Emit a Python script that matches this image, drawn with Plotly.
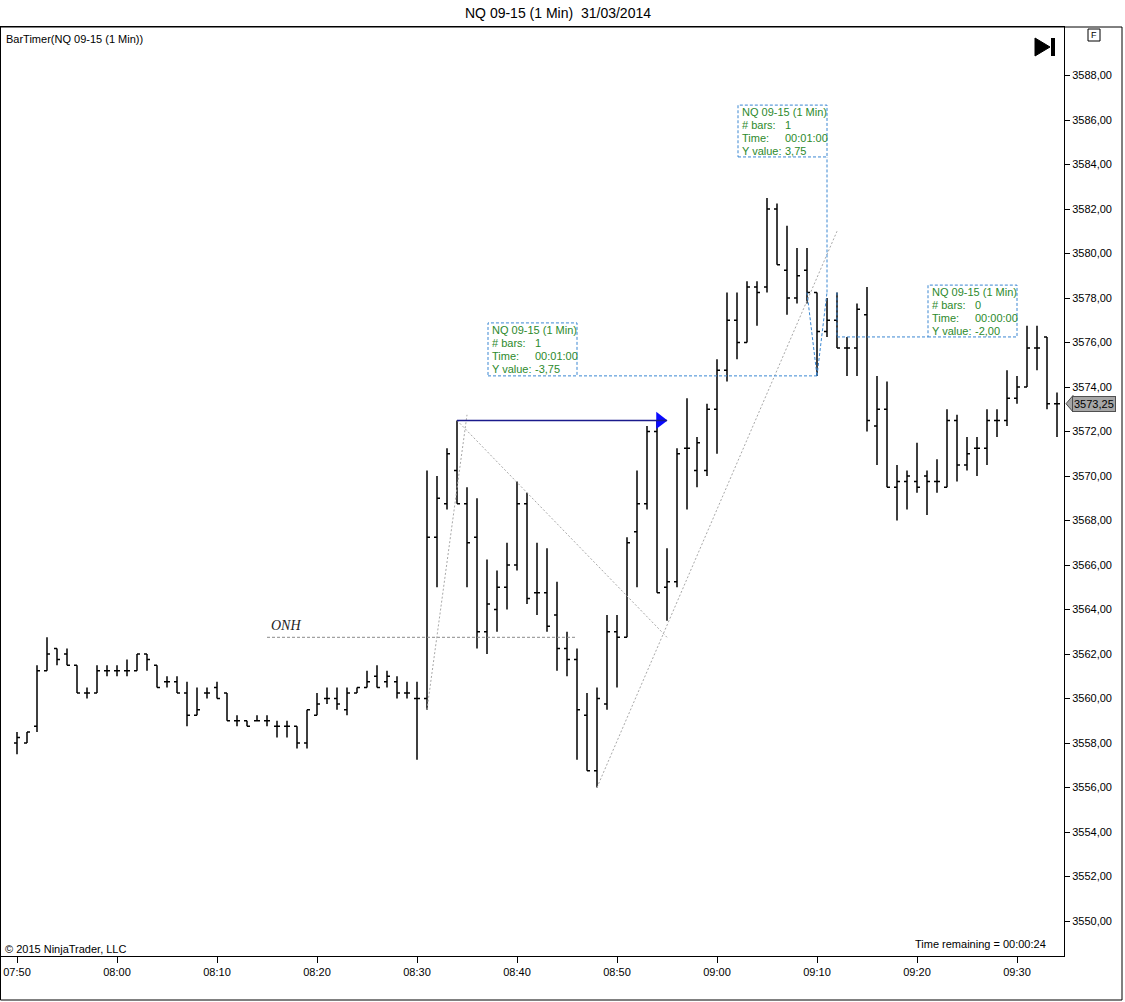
import pandas as pd
import plotly.graph_objects as go

DAY = "2014-03-31 "

# one bar per minute, 07:50 .. 09:34
times = pd.date_range(DAY + "07:50", DAY + "09:34", freq="1min")

opens = [
    3558.0, 3558.0, 3558.75, 3561.25, 3562.25, 3562.0, 3561.5, 3560.25, 3560.25, 3561.25,
    3561.25, 3561.25, 3561.25, 3562.0, 3561.5, 3560.75, 3560.75, 3560.25, 3559.25, 3560.25,
    3560.5, 3560.25, 3559.0, 3559.0, 3559.0, 3559.0, 3558.75, 3558.75, 3558.75, 3558.0,
    3559.25, 3560.0, 3560.0, 3559.5, 3560.25, 3560.5, 3561.0, 3560.75, 3560.75, 3560.25,
    3560.0, 3560.0, 3567.25, 3568.75, 3570.25, 3568.75, 3567.25, 3563.0, 3564.0, 3565.0,
    3566.0, 3568.75, 3564.75, 3564.75, 3563.75, 3562.25, 3561.75, 3559.25, 3556.75, 3559.75,
    3563.0, 3562.75, 3567.5, 3568.75, 3572.0, 3565.0, 3565.25, 3571.25, 3570.25, 3570.25,
    3573.0, 3574.75, 3577.0, 3576.0, 3578.5, 3578.5, 3582.0, 3579.25, 3578.0, 3579.25,
    3578.25, 3576.5, 3577.0, 3575.75, 3575.75, 3577.25, 3572.25, 3573.0, 3569.5, 3569.75,
    3569.75, 3570.0, 3569.75, 3569.5, 3572.5, 3570.5, 3571.25, 3571.25, 3572.5, 3572.5,
    3573.5, 3574.0, 3575.75, 3576.25, 3573.25,
]
highs = [
    3558.5, 3558.5, 3561.5, 3562.75, 3562.25, 3562.25, 3561.5, 3560.5, 3561.5, 3561.5,
    3561.5, 3561.75, 3562.0, 3562.0, 3561.5, 3561.0, 3561.0, 3560.75, 3560.5, 3560.5,
    3560.75, 3560.25, 3559.25, 3559.0, 3559.25, 3559.25, 3559.0, 3559.0, 3558.75, 3559.5,
    3560.25, 3560.5, 3560.5, 3560.5, 3560.5, 3561.25, 3561.5, 3561.25, 3561.0, 3560.75,
    3560.75, 3570.25, 3570.0, 3571.25, 3572.5, 3569.5, 3569.0, 3566.25, 3565.75, 3567.0,
    3569.75, 3569.25, 3567.0, 3566.75, 3565.25, 3563.0, 3562.25, 3560.25, 3560.5, 3563.75,
    3563.75, 3567.25, 3570.25, 3572.25, 3572.5, 3566.75, 3571.25, 3573.5, 3571.75, 3573.25,
    3575.25, 3578.25, 3578.25, 3578.75, 3578.75, 3582.5, 3582.25, 3581.25, 3580.25, 3580.25,
    3578.25, 3578.0, 3578.25, 3576.25, 3577.75, 3578.5, 3574.5, 3574.25, 3570.5, 3570.25,
    3571.5, 3570.25, 3570.75, 3573.0, 3572.75, 3571.75, 3571.75, 3573.0, 3573.0, 3574.75,
    3574.5, 3576.75, 3576.75, 3576.25, 3573.75,
]
lows = [
    3557.5, 3558.0, 3558.5, 3561.25, 3561.5, 3561.5, 3560.25, 3560.0, 3560.25, 3561.0,
    3561.0, 3561.0, 3561.25, 3561.25, 3560.5, 3560.5, 3560.25, 3558.75, 3559.25, 3560.0,
    3560.0, 3559.0, 3558.75, 3558.75, 3559.0, 3558.75, 3558.25, 3558.25, 3557.75, 3557.75,
    3559.25, 3559.75, 3559.5, 3559.25, 3560.25, 3560.5, 3560.5, 3560.5, 3560.0, 3560.0,
    3557.25, 3559.5, 3565.0, 3568.5, 3568.75, 3565.0, 3562.25, 3562.0, 3563.0, 3564.0,
    3565.75, 3564.25, 3563.75, 3563.0, 3561.25, 3561.0, 3557.25, 3556.75, 3556.0, 3559.5,
    3560.5, 3562.75, 3565.0, 3568.5, 3564.75, 3563.5, 3565.0, 3568.5, 3569.5, 3570.0,
    3571.0, 3574.25, 3575.25, 3576.0, 3576.75, 3578.25, 3579.5, 3577.25, 3577.75, 3577.75,
    3574.5, 3576.25, 3575.75, 3574.5, 3574.5, 3572.0, 3570.5, 3569.5, 3568.0, 3568.5,
    3569.25, 3568.25, 3569.25, 3569.5, 3569.75, 3570.25, 3570.0, 3570.5, 3571.75, 3572.25,
    3573.25, 3574.0, 3574.75, 3573.0, 3571.75,
]
closes = [
    3558.25, 3558.5, 3561.25, 3562.0, 3561.75, 3561.5, 3560.25, 3560.25, 3561.25, 3561.25,
    3561.25, 3561.25, 3562.0, 3561.75, 3560.5, 3560.75, 3560.25, 3559.25, 3559.5, 3560.25,
    3560.0, 3559.0, 3559.0, 3558.75, 3559.0, 3559.0, 3558.75, 3558.75, 3558.0, 3559.5,
    3559.75, 3560.0, 3559.75, 3560.25, 3560.5, 3560.75, 3560.5, 3561.0, 3560.25, 3560.25,
    3560.0, 3567.25, 3569.0, 3571.0, 3568.75, 3567.0, 3563.0, 3564.25, 3565.0, 3566.0,
    3568.75, 3564.5, 3564.75, 3563.25, 3562.25, 3561.75, 3559.5, 3556.75, 3560.0, 3563.0,
    3562.75, 3567.0, 3568.75, 3572.0, 3564.75, 3565.25, 3571.0, 3571.25, 3571.5, 3573.0,
    3574.75, 3577.0, 3576.0, 3578.5, 3578.25, 3582.0, 3579.5, 3578.0, 3579.0, 3578.25,
    3576.5, 3577.0, 3575.75, 3575.75, 3577.5, 3572.5, 3573.0, 3569.5, 3569.75, 3570.0,
    3569.5, 3569.75, 3569.75, 3572.5, 3570.5, 3571.0, 3571.25, 3572.5, 3572.5, 3573.5,
    3574.0, 3575.75, 3575.75, 3573.25, 3573.25,
]

price_ticks = [3550 + 2 * i for i in range(20)]
time_ticks = ["07:50", "08:00", "08:10", "08:20", "08:30", "08:40",
              "08:50", "09:00", "09:10", "09:20", "09:30"]

# drawing objects on the chart
onh = {"price": 3562.75, "start": "08:15", "end": "08:46"}
trend_lines = [
    ("08:31", 3559.5, "08:35", 3572.75),
    ("08:34", 3572.5, "08:55", 3562.75),
    ("08:48", 3556.0, "09:12", 3581.0),
]
blue_arrow = ("08:34", 3572.5, "08:55")
# ruler: start, end, connector end, box (x0, x1, y0, y1), bars, time, y value
rulers = [
    {"start": ("09:09", 3578.25), "end": ("09:10", 3574.5), "link": ("08:46", 3574.5),
     "box": ("08:37:06", "08:46", 3574.5, 3576.88), "bars": "1", "time": "00:01:00", "yval": "-3,75"},
    {"start": ("09:10", 3574.5), "end": ("09:11", 3578.25), "link": ("09:11", 3584.34),
     "box": ("09:02:06", "09:11", 3584.34, 3586.67), "bars": "1", "time": "00:01:00", "yval": "3,75"},
    {"start": ("09:12", 3578.25), "end": ("09:12", 3576.25), "link": ("09:21:06", 3576.25),
     "box": ("09:21:06", "09:30", 3576.25, 3578.58), "bars": "0", "time": "00:00:00", "yval": "-2,00"},
]
last_price = 3573.25

FONT = "Arial, Liberation Sans, sans-serif"
RULER_BLUE = "#3a87d2"
RULER_GREEN = "#2c8a2c"
W, H = 1125, 1002
L, R, T, B = 0, 61, 27, 46
PW, PH = W - L - R, H - T - B


def t(hm):
    return pd.Timestamp(DAY + hm)


def px(x):
    return (x - L) / PW


def py(y):
    return (H - B - y) / PH


fig = go.Figure()

fig.add_trace(go.Ohlc(
    x=times, open=opens, high=highs, low=lows, close=closes,
    increasing_line_color="black", decreasing_line_color="black",
    line_width=1.5, tickwidth=0.3, showlegend=False,
))

# ONH line and label
fig.add_shape(type="line", x0=t(onh["start"]), x1=t(onh["end"]), y0=onh["price"], y1=onh["price"],
              line=dict(color="#8a8a8a", width=1, dash="3px,2px"))
fig.add_annotation(x=t(onh["start"]), y=onh["price"], text="<i>ONH</i>", showarrow=False,
                   xanchor="left", yanchor="bottom", xshift=2, yshift=2,
                   font=dict(family="Liberation Serif, DejaVu Serif, serif", size=14, color="#222"))

for x0, y0, x1, y1 in trend_lines:
    fig.add_shape(type="line", x0=t(x0), y0=y0, x1=t(x1), y1=y1,
                  line=dict(color="#a8a8a8", width=1, dash="2px,2px"))

# blue arrow
ax0, ay, ax1 = blue_arrow
fig.add_shape(type="line", x0=t(ax0), x1=t(ax1), y0=ay, y1=ay,
              line=dict(color="#1a1a8c", width=1.5))
fig.add_trace(go.Scatter(
    x=[t(ax1) - pd.Timedelta(seconds=42)], y=[ay], mode="markers",
    marker=dict(symbol="triangle-right", size=15, color="#0a0aff"),
    showlegend=False, hoverinfo="skip",
))

# rulers
for r in rulers:
    dash = dict(color=RULER_BLUE, width=1, dash="3px,2px")
    fig.add_shape(type="line", x0=t(r["start"][0]), y0=r["start"][1],
                  x1=t(r["end"][0]), y1=r["end"][1], line=dash)
    fig.add_shape(type="line", x0=t(r["end"][0]), y0=r["end"][1],
                  x1=t(r["link"][0]), y1=r["link"][1], line=dash)
    bx0, bx1, by0, by1 = r["box"]
    fig.add_shape(type="rect", x0=t(bx0), x1=t(bx1), y0=by0, y1=by1, line=dash,
                  fillcolor="rgba(255,255,255,0)")
    rows = [("NQ 09-15 (1 Min)", None), ("# bars:", r["bars"]),
            ("Time:", r["time"]), ("Y value:", r["yval"])]
    for i, (lab, val) in enumerate(rows):
        for text, dx in ((lab, 2), (val, 45)):
            if text is None:
                continue
            fig.add_annotation(x=t(bx0), y=by1, text=text, showarrow=False,
                               xanchor="left", yanchor="middle",
                               xshift=dx, yshift=-(7 + 13 * i),
                               font=dict(family=FONT, size=11, color=RULER_GREEN))

# last price marker on the price axis
fig.add_shape(type="path", xref="paper", yref="y",
              path=f"M {px(1066)},{last_price} L {px(1073)},{last_price + 0.37} "
                   f"L {px(1073)},{last_price - 0.37} Z",
              fillcolor="#a6a6a6", line=dict(color="#505050", width=1))
fig.add_annotation(xref="paper", yref="y", x=px(1072), y=last_price,
                   text=f"{last_price:.2f}".replace(".", ","), showarrow=False,
                   xanchor="left", yanchor="middle", bgcolor="#a6a6a6",
                   bordercolor="#505050", borderwidth=1, borderpad=1,
                   font=dict(family=FONT, size=11, color="black"))

# window furniture
fig.add_shape(type="rect", xref="paper", yref="paper",
              x0=px(0.5), x1=px(1122), y0=py(1000), y1=py(27),
              line=dict(color="black", width=1))
fig.add_shape(type="path", xref="paper", yref="paper",
              path=f"M {px(1035)},{py(38)} L {px(1035)},{py(56)} L {px(1050)},{py(47)} Z",
              fillcolor="black", line=dict(color="black", width=1))
fig.add_shape(type="rect", xref="paper", yref="paper",
              x0=px(1051), x1=px(1055), y0=py(56), y1=py(38),
              fillcolor="black", line=dict(color="black", width=0))
fig.add_shape(type="rect", xref="paper", yref="paper",
              x0=px(1088), x1=px(1100), y0=py(41), y1=py(29),
              line=dict(color="black", width=1))
fig.add_annotation(xref="paper", yref="paper", x=px(1094), y=py(35), text="F",
                   showarrow=False, xanchor="center", yanchor="middle",
                   font=dict(family=FONT, size=9, color="black"))
fig.add_annotation(xref="paper", yref="paper", x=px(4), y=py(39),
                   text="BarTimer(NQ 09-15 (1 Min))", showarrow=False,
                   xanchor="left", yanchor="middle",
                   font=dict(family=FONT, size=11, color="black"))
fig.add_annotation(xref="paper", yref="paper", x=px(3), y=py(949),
                   text="© 2015 NinjaTrader, LLC", showarrow=False,
                   xanchor="left", yanchor="middle",
                   font=dict(family=FONT, size=11, color="black"))
fig.add_annotation(xref="paper", yref="paper", x=px(1048), y=py(944),
                   text="Time remaining = 00:00:24", showarrow=False,
                   xanchor="right", yanchor="middle",
                   font=dict(family=FONT, size=11, color="black"))

fig.update_layout(
    width=W, height=H,
    margin=dict(l=L, r=R, t=T, b=B),
    paper_bgcolor="white", plot_bgcolor="white",
    separators=",.",
    title=dict(text="NQ 09-15 (1 Min)  31/03/2014", x=558 / W, xanchor="center",
               y=1 - 13 / H, yanchor="middle",
               font=dict(family=FONT, size=14, color="black")),
    font=dict(family=FONT, size=11, color="black"),
    showlegend=False,
    xaxis=dict(
        type="date", rangeslider=dict(visible=False),
        range=[t("07:48:18"), t("09:34:42")],
        tickvals=[t(s) for s in time_ticks], ticktext=time_ticks,
        ticks="outside", ticklen=6, tickcolor="black",
        showline=True, linecolor="black", linewidth=1, mirror=True,
        showgrid=False, zeroline=False,
        tickfont=dict(family=FONT, size=11, color="black"),
    ),
    yaxis=dict(
        side="right", range=[3548.427, 3590.18],
        tickvals=price_ticks, tickformat=".2f",
        ticks="outside", ticklen=5, tickcolor="black",
        showline=True, linecolor="black", linewidth=1, mirror=True,
        showgrid=False, zeroline=False,
        tickfont=dict(family=FONT, size=11, color="black"),
    ),
)

# page body has a default margin; drop it so the figure fills the window
fig.write_html("out.html", config={"displayModeBar": False},
               post_script="document.body.style.margin = '0';")
